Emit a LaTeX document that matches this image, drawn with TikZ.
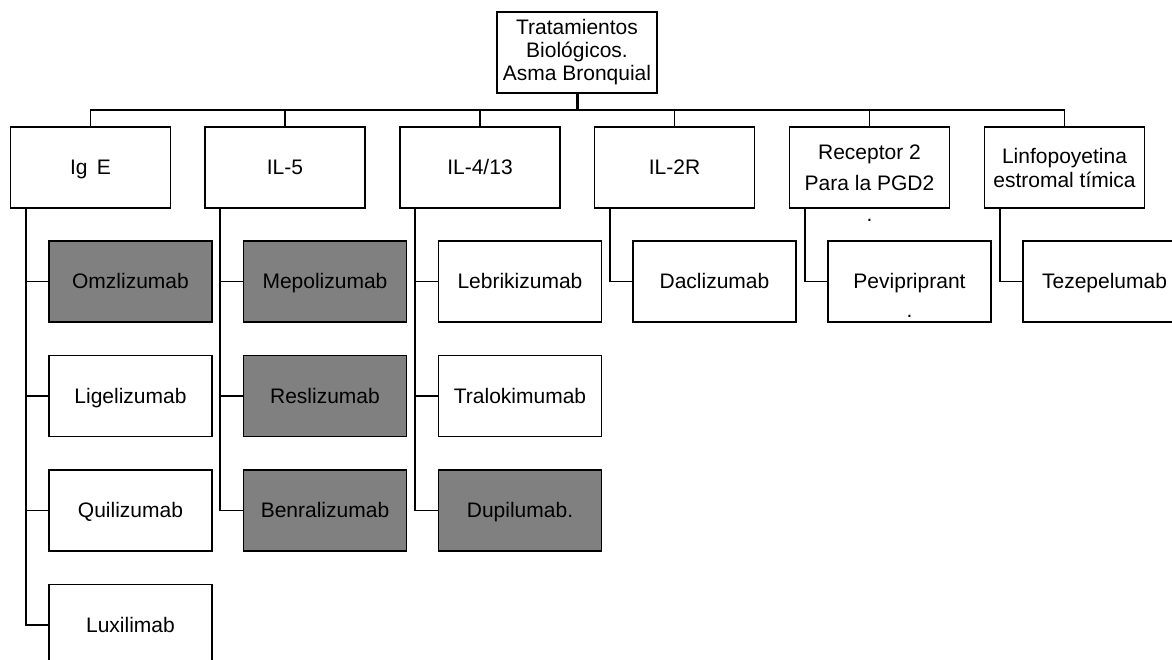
\documentclass[tikz,border=0pt]{standalone}
\usepackage{fontspec}
\setmainfont{Liberation Sans}
\usetikzlibrary{calc}
\definecolor{boxgrey}{HTML}{808080}
\begin{document}
\begin{tikzpicture}[x=1pt,y=-1pt,
  box/.style={draw=black,line width=1.6pt,fill=white,minimum width=160pt,minimum height=81pt,
    inner sep=0pt,align=center,font=\fontsize{21}{23}\selectfont},
  oneline/.style={text height=16pt,text depth=2pt},
  kid/.style={box,oneline,minimum width=163pt},
  dark/.style={fill=boxgrey},
  conn/.style={line width=1.6pt},
  trunk/.style={line width=3pt}]
\useasboundingbox (0,0) rectangle (1172,660);
\clip (0,0) rectangle (1172,660);

% root
\node[box] (root) at (577,52.5) {Tratamientos\\Biológicos.\\Asma Bronquial};

% level 1
\node[box,oneline] (ige)  at (90.5,167.5)  {Ig\, E};
\node[box,oneline] (ilf)  at (285,167.5)   {IL-5};
\node[box,oneline] (ilq)  at (480,167.5)   {IL-4/13};
\node[box,oneline] (ild)  at (674.5,167.5) {IL-2R};
\node[box] (rec)  at (869.5,167.5) {Receptor 2\\[8pt]\ooalign{Para la PGD2\cr\hfil\raisebox{-31pt}[0pt][0pt]{.}\hfil\cr}};
\node[box] (lin)  at (1064.5,167.5) {Linfopoyetina\\[1pt]estromal tímica};

% children
\node[kid,dark] (omz) at (130.5,281.5) {Omzlizumab};
\node[kid] (lig) at (130.5,396) {Ligelizumab};
\node[kid] (qui) at (130.5,510.5) {Quilizumab};
\node[kid] (lux) at (130.5,625) {Luxilimab};

\node[kid,dark] (mep) at (325,281.5) {Mepolizumab};
\node[kid,dark] (res) at (325,396) {Reslizumab};
\node[kid,dark] (ben) at (325,510.5) {Benralizumab};

\node[kid] (leb) at (520,281.5) {Lebrikizumab};
\node[kid] (tra) at (520,396) {Tralokimumab};
\node[kid,dark] (dup) at (520,510.5) {Dupilumab.};

\node[kid] (dac) at (714.5,281.5) {Daclizumab};
\node[kid] (pev) at (909.5,281.5) {\ooalign{Pevipriprant\cr\hfil\raisebox{-29pt}[0pt][0pt]{.}\hfil\cr}};
\node[kid] (tez) at (1104.5,281.5) {Tezepelumab};

% top bus
\coordinate (bus) at (577,110);
\draw[trunk] (root.south) -- (bus);
\draw[conn] (ige.north) |- (bus) -| (lin.north);
\foreach \p in {ilf,ilq,ild,rec}
  \draw[conn] (\p.north) -- (\p.north |- bus);

% child connectors
\foreach \p/\c in {ige/omz,ige/lig,ige/qui,ige/lux,ilf/mep,ilf/res,ilf/ben,ilq/leb,ilq/tra,ilq/dup,ild/dac,rec/pev,lin/tez}
  \draw[conn] ($(\p.south west)+(16,0)$) |- (\c.west);
\end{tikzpicture}
\end{document}
